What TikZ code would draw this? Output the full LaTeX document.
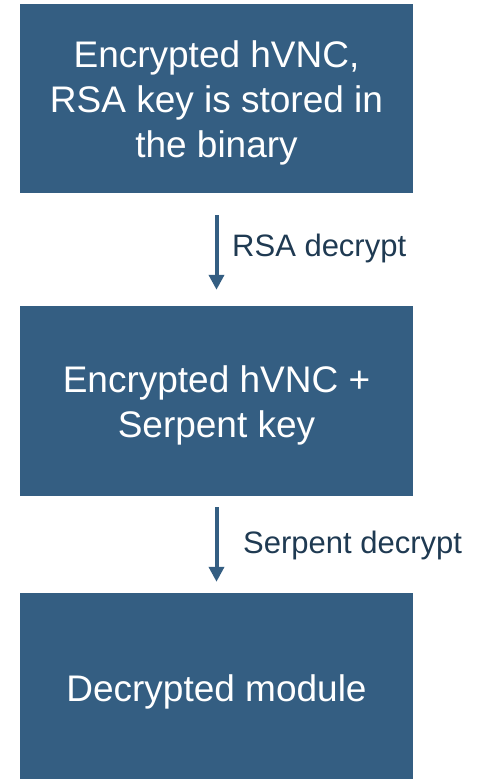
\documentclass[tikz,border=0pt]{standalone}
\usepackage{fontspec}
\setmainfont{Liberation Sans}
\usetikzlibrary{arrows.meta}
\definecolor{boxblue}{HTML}{345E82}
\definecolor{labeltext}{HTML}{1F3A52}
\begin{document}
\begin{tikzpicture}[x=1pt,y=-1pt,
  box/.style={fill=boxblue, draw=none, minimum width=393pt, inner sep=0pt},
  boxtext/.style={text=white, align=center, inner sep=0pt,
    font=\fontsize{37}{44.7}\selectfont},
  arr/.style={draw=boxblue, line width=4pt, -{Triangle[width=15pt,length=15pt]}},
  lbl/.style={text=labeltext, font=\fontsize{31}{37}\selectfont, inner sep=0pt, anchor=base west}]
\useasboundingbox (0,0) rectangle (479,779);
\node[box, minimum height=189pt] (b1) at (216.5,98.5) {};
\node[box, minimum height=190pt] (b2) at (216.5,401) {};
\node[box, minimum height=186pt] (b3) at (216.5,686) {};
\node[boxtext] (t1) at ([yshift=-4.5pt]b1.center) {Encrypted hVNC,\\RSA key is stored in\\the binary};
\node[boxtext] (t2) at ([yshift=-4.6pt]b2.center) {Encrypted hVNC +\\Serpent key};
\node[boxtext] (t3) at ([yshift=-6.4pt]b3.center) {Decrypted module};
\draw[arr] ([yshift=-22pt]b1.south) -- ([yshift=16pt]b2.north);
\draw[arr] ([yshift=-11pt]b2.south) -- ([yshift=11pt]b3.north);
\node[lbl] (l1) at (232,256) {RSA decrypt};
\node[lbl] (l2) at (243,553) {Serpent decrypt};
\end{tikzpicture}
\end{document}
